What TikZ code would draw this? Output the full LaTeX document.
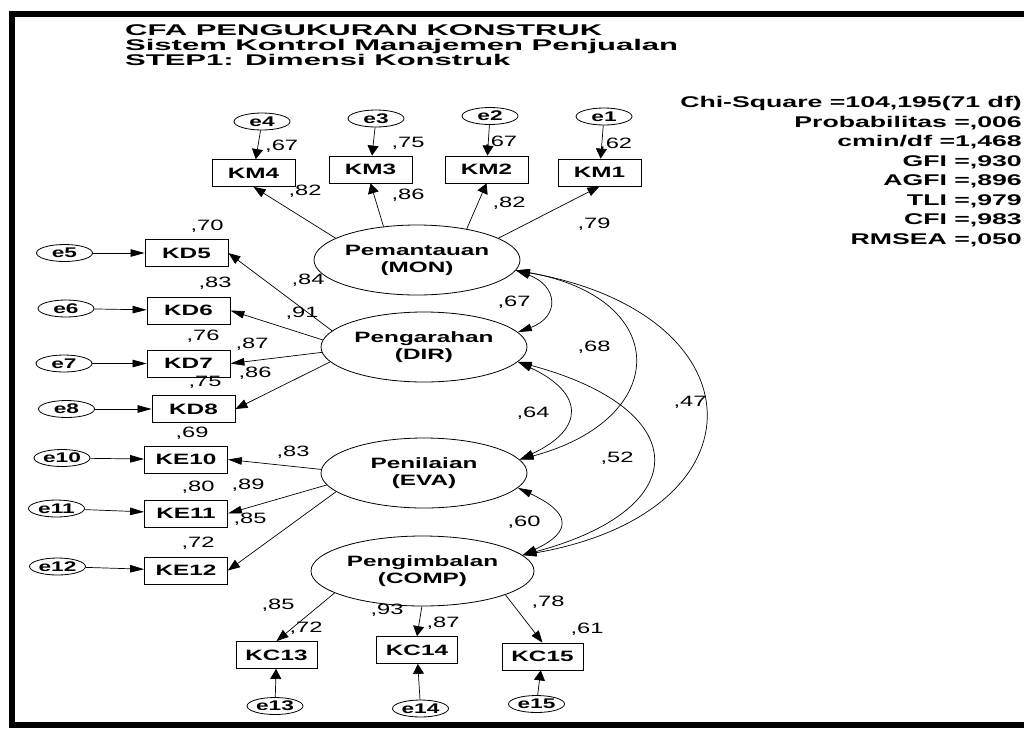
\documentclass[tikz,border=0pt]{standalone}
\usepackage{fontspec}
\setmainfont{Liberation Sans}
\newfontfamily\titlefont{Liberation Sans}[FakeStretch=2.0]
\newfontfamily\statfont{Liberation Sans}[FakeStretch=1.72]
\newfontfamily\nodefont{Liberation Sans}[FakeStretch=1.62]
\newfontfamily\numfont{Liberation Sans}[FakeStretch=1.58]
\usetikzlibrary{shapes.geometric,arrows.meta}

\begin{document}
\begin{tikzpicture}[x=1pt,y=1pt,
  obs/.style={draw, line width=0.8pt, minimum width=83pt, minimum height=27pt, inner sep=0pt,
    font=\nodefont\bfseries\fontsize{15}{15}\selectfont},
  err/.style={ellipse, draw, line width=0.8pt, minimum width=56pt, minimum height=17pt, inner sep=0pt,
    font=\nodefont\bfseries\fontsize{14}{14}\selectfont},
  lat/.style={ellipse, draw, line width=0.8pt, minimum width=206pt, minimum height=70pt, inner sep=0pt,
    align=center, font=\nodefont\bfseries\fontsize{15}{17}\selectfont},
  htip/.tip={Triangle[length=14pt,width=7.5pt]},
  vtip/.tip={Triangle[length=10pt,width=11pt]},
  dtip/.tip={Triangle[length=12pt,width=9pt]},
  ldh/.style={-htip, line width=0.7pt},
  ldv/.style={-vtip, line width=0.7pt},
  ldd/.style={-dtip, line width=0.7pt},
  cov/.style={htip-htip, line width=0.7pt},
  num/.style={inner sep=0pt, font=\numfont\fontsize{15}{15}\selectfont},
  stat/.style={anchor=east, inner sep=0pt, font=\statfont\bfseries\fontsize{15.5}{15.5}\selectfont},
  ttl/.style={anchor=base west, inner sep=0pt, font=\titlefont\bfseries\fontsize{15.5}{15.5}\selectfont}]

\useasboundingbox (0,0) rectangle (1024,-731);

% page frame
\draw[line width=6pt, line join=miter] (1034,-14) -- (11.5,-14) -- (11.5,-725) -- (1034,-725);

% title
\node[ttl] (t1) at (125,-35) {CFA PENGUKURAN KONSTRUK};
\node[ttl] (t2) at (125,-50) {Sistem Kontrol Manajemen Penjualan};
\node[ttl] (t3) at (125,-65) {STEP1: Dimensi Konstruk};

% fit statistics
\node[stat] (s1) at (1022,-103) {Chi-Square =104,195(71 df)};
\node[stat] (s2) at (1022,-122.6) {Probabilitas =,006};
\node[stat] (s3) at (1022,-142.2) {cmin/df =1,468};
\node[stat] (s4) at (1022,-161.8) {GFI =,930};
\node[stat] (s5) at (1022,-181.4) {AGFI =,896};
\node[stat] (s6) at (1022,-201) {TLI =,979};
\node[stat] (s7) at (1022,-220.6) {CFI =,983};
\node[stat] (s8) at (1022,-240.2) {RMSEA =,050};

% latent constructs
\node[lat] (mon) at (417,-260) {Pemantauan\\(MON)};
\node[lat] (dir) at (424,-347) {Pengarahan\\(DIR)};
\node[lat] (eva) at (424,-473) {Penilaian\\(EVA)};
\node[lat, minimum width=223pt] (comp) at (422.5,-571) {Pengimbalan\\(COMP)};

% indicators
\node[obs] (KM4) at (253.5,-173) {KM4};
\node[obs] (KM3) at (370.5,-169.5) {KM3};
\node[obs] (KM2) at (486.5,-169.5) {KM2};
\node[obs] (KM1) at (599.5,-172.5) {KM1};
\node[obs] (KD5) at (186.5,-253) {KD5};
\node[obs] (KD6) at (188.5,-310.5) {KD6};
\node[obs] (KD7) at (188.5,-363.5) {KD7};
\node[obs] (KD8) at (193.5,-409) {KD8};
\node[obs] (KE10) at (186,-459.5) {KE10};
\node[obs] (KE11) at (186,-513.5) {KE11};
\node[obs] (KE12) at (186,-570.5) {KE12};
\node[obs, minimum width=81pt] (KC13) at (276.5,-655) {KC13};
\node[obs, minimum width=81pt] (KC14) at (417,-650) {KC14};
\node[obs, minimum width=81pt] (KC15) at (542.5,-656.5) {KC15};

% error terms
\node[err] (e4) at (262,-121.5) {e4};
\node[err] (e3) at (376,-118.5) {e3};
\node[err] (e2) at (490,-116) {e2};
\node[err] (e1) at (604,-116.5) {e1};
\node[err] (e5) at (64.5,-253) {e5};
\node[err] (e6) at (66,-308.5) {e6};
\node[err] (e7) at (64,-363.5) {e7};
\node[err] (e8) at (66.5,-409) {e8};
\node[err] (e10) at (62,-458) {e10};
\node[err] (e11) at (56.5,-508.5) {e11};
\node[err] (e12) at (57.5,-566.5) {e12};
\node[err] (e13) at (275,-706) {e13};
\node[err] (e14) at (420.5,-708.5) {e14};
\node[err] (e15) at (536.5,-704) {e15};

% error paths
\foreach \e/\o in {e4/KM4,e3/KM3,e2/KM2,e1/KM1,e13/KC13,e14/KC14,e15/KC15}
  \draw[ldv] (\e) -- (\o);
\foreach \e/\o in {e5/KD5,e6/KD6,e7/KD7,e8/KD8,e10/KE10,e11/KE11,e12/KE12}
  \draw[ldh] (\e) -- (\o);

% factor loadings
\draw[ldd] (mon.165) -- (KM4.south);
\draw[ldv] (mon.135) -- (KM3.south);
\draw[ldv] (mon.32) -- (KM2.south);
\draw[ldd] (mon.15) -- (KM1.south);
\draw[ldd] (dir.170) -- (KD5.east);
\draw[ldh] (dir.176) -- (KD6.east);
\draw[ldh] (dir.183) -- (KD7.east);
\draw[ldd] (dir.189) -- (KD8.east);
\draw[ldh] (eva.178) -- (KE10.east);
\draw[ldh] (eva.187) -- (KE11.east);
\draw[ldd] (eva.192) -- (KE12.east);
\draw[ldd] (comp.-166) -- (KC13.north);
\draw[ldv] (comp.-91) -- (KC14.north);
\draw[ldd] (comp.-16) -- (KC15.north);

% covariances
\draw[cov] (mon.-6) .. controls +(-20:45) and +(20:45) .. (dir.9);
\draw[cov] (mon.-6) .. controls +(-10:158) and +(15:158) .. (eva.8);
\draw[cov] (mon.-6) .. controls +(-10:250) and +(10:250) .. (comp.9);
\draw[cov] (dir.-9) .. controls +(-25:73) and +(25:73) .. (eva.8);
\draw[cov] (dir.-9) .. controls +(-15:181) and +(15:181) .. (comp.9);
\draw[cov] (eva.-9) .. controls +(-25:57) and +(25:57) .. (comp.9);

% squared multiple correlations
\node[num, anchor=west] (r4) at (265,-146) {,67};
\node[num] (r3) at (408,-143) {,75};
\node[num, anchor=west] (r2) at (484,-142) {,67};
\node[num, anchor=west] (r1) at (599,-144) {,62};
\node[num] (r5) at (207,-226) {,70};
\node[num] (r6) at (215,-283) {,83};
\node[num] (r7) at (203,-336) {,76};
\node[num] (r8) at (205,-382) {,75};
\node[num] (r10) at (192,-433) {,69};
\node[num] (r11) at (198,-487) {,80};
\node[num] (r12) at (198,-543) {,72};
\node[num] (r13) at (306,-628) {,72};
\node[num] (r14) at (443,-623) {,87};
\node[num] (r15) at (587,-629) {,61};

% loading estimates
\node[num] (l4) at (305,-191) {,82};
\node[num] (l3) at (408,-195) {,86};
\node[num] (l2) at (509,-203) {,82};
\node[num] (l1) at (594,-224) {,79};
\node[num] (l5) at (308,-280) {,84};
\node[num] (l6) at (302,-313) {,91};
\node[num] (l7) at (252,-344) {,87};
\node[num] (l8) at (255,-373) {,86};
\node[num] (l10) at (293,-452) {,83};
\node[num] (l11) at (248,-485) {,89};
\node[num] (l12) at (250,-519) {,85};
\node[num] (l13) at (278,-605) {,85};
\node[num] (l14) at (387,-610) {,93};
\node[num] (l15) at (548,-602) {,78};

% correlation estimates
\node[num] (c1) at (514,-302) {,67};
\node[num] (c2) at (594,-347) {,68};
\node[num] (c3) at (533,-413) {,64};
\node[num] (c4) at (617,-458) {,52};
\node[num] (c5) at (690,-402) {,47};
\node[num] (c6) at (524,-522) {,60};
\end{tikzpicture}
\end{document}
